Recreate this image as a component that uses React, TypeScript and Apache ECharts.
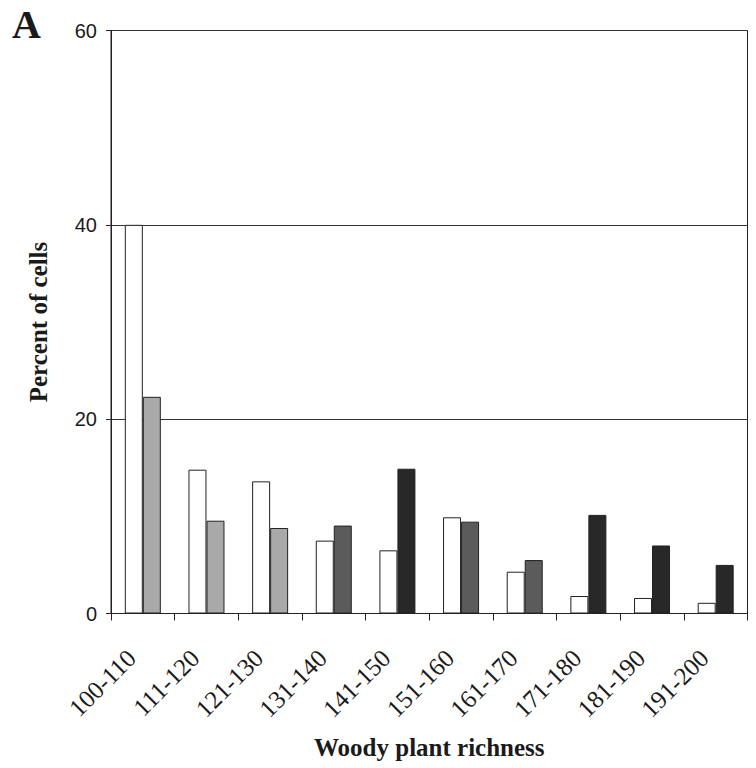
import React, { useEffect, useRef } from "react";
import * as echarts from "echarts";

const categories = [
  "100-110", "111-120", "121-130", "131-140", "141-150",
  "151-160", "161-170", "171-180", "181-190", "191-200",
];
const openValues = [40, 14.8, 13.6, 7.5, 6.5, 9.9, 4.3, 1.8, 1.6, 1.1];
const filledValues = [22.3, 9.55, 8.8, 9.05, 14.9, 9.45, 5.5, 10.15, 7.0, 5.0];
const filledShade = ["light", "light", "light", "dark", "black", "dark", "dark", "black", "black", "black"];
const shadeColors: Record<string, string> = {
  light: "#a9a9a9",
  dark: "#5b5b5b",
  black: "#282828",
};
const yTicks = [0, 20, 40, 60];

export default function App() {
  const ref = useRef<HTMLDivElement>(null);
  useEffect(() => {
    if (!ref.current) return;
    const chart = echarts.init(ref.current, null, { renderer: "svg" });
    const serif = "'Liberation Serif', 'Times New Roman', serif";
    chart.setOption({
      animation: false,
      backgroundColor: "#ffffff",
      title: {
        text: "A",
        left: 12,
        top: 4,
        padding: 0,
        textStyle: { fontFamily: serif, fontWeight: "bold", fontSize: 40, color: "#1a1a1a" },
      },
      grid: {
        left: 111,
        right: 8.5,
        top: 30.5,
        bottom: 154.5,
        show: true,
        borderColor: "#222",
        borderWidth: 1,
        backgroundColor: "transparent",
      },
      xAxis: {
        type: "category",
        data: categories,
        name: "Woody plant richness",
        nameLocation: "middle",
        nameGap: 121,
        nameMoveOverlap: false,
        nameTextStyle: { fontFamily: serif, fontWeight: "bold", fontSize: 25, color: "#1a1a1a" },
        axisLine: { lineStyle: { color: "#222", width: 1 } },
        axisTick: { show: true, length: 7, lineStyle: { color: "#222" } },
        axisLabel: {
          rotate: 45,
          margin: 29,
          padding: [0, 16, 0, 0],
          fontFamily: serif,
          fontSize: 25,
          color: "#1a1a1a",
          interval: 0,
        },
        splitLine: { show: false },
      },
      yAxis: {
        type: "value",
        min: yTicks[0],
        max: yTicks[yTicks.length - 1],
        interval: 20,
        name: "Percent of cells",
        nameLocation: "middle",
        nameGap: 60,
        nameMoveOverlap: false,
        nameTextStyle: { fontFamily: serif, fontWeight: "bold", fontSize: 25, color: "#1a1a1a" },
        axisLine: { show: true, lineStyle: { color: "#222", width: 1 } },
        axisTick: { show: true, length: 5, lineStyle: { color: "#222" } },
        axisLabel: {
          margin: 14,
          fontFamily: "'Liberation Sans', Arial, sans-serif",
          fontSize: 20,
          color: "#1a1a1a",
        },
        splitLine: { show: true, lineStyle: { color: "#333", width: 1 } },
      },
      series: [
        {
          type: "bar",
          data: openValues,
          barWidth: 18,
          barGap: "0%",
          itemStyle: { color: "#ffffff", borderColor: "#222", borderWidth: 1 },
        },
        {
          type: "bar",
          data: filledValues.map((v, i) => ({
            value: v,
            itemStyle: { color: shadeColors[filledShade[i]] },
          })),
          barWidth: 18,
          barGap: "0%",
          itemStyle: { borderColor: "#222", borderWidth: 1 },
        },
      ],
    });
    return () => chart.dispose();
  }, []);
  return (
    <div
      ref={ref}
      style={{ position: "fixed", left: 0, top: 0, width: 756, height: 768, background: "#fff" }}
    />
  );
}
